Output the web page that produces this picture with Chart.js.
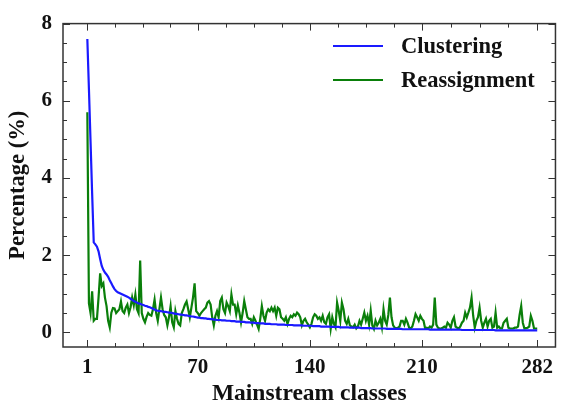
<!DOCTYPE html>
<html>
<head>
<meta charset="utf-8">
<script src="https://cdn.jsdelivr.net/npm/chart.js@4/dist/chart.umd.min.js"></script>
<style>
html, body { margin: 0; padding: 0; background: #fff; }
</style>
</head>
<body>
<canvas id="chart" width="561" height="408"></canvas>
<script>
// tick labels
const xTicks = [1, 70, 140, 210, 282];
const yTicks = [0, 2, 4, 6, 8];
const seriesNames = ['Clustering', 'Reassignment'];

// share of each mainstream class (%), classes 1..282
const clustering = [
  7.6, 6.3, 4.95, 3.6, 2.33, 2.28, 2.22, 2.1, 1.9, 1.72,
  1.62, 1.55, 1.5, 1.44, 1.35, 1.27, 1.19, 1.12, 1.07, 1.04,
  1.02, 1.0, 0.98, 0.96, 0.94, 0.92, 0.9, 0.87, 0.84, 0.81,
  0.79, 0.77, 0.75, 0.74, 0.72, 0.71, 0.69, 0.68, 0.66, 0.65,
  0.63, 0.61, 0.59, 0.57, 0.56, 0.55, 0.55, 0.54, 0.53, 0.53,
  0.52, 0.51, 0.51, 0.5, 0.49, 0.48, 0.48, 0.47, 0.46, 0.46,
  0.45, 0.44, 0.44, 0.43, 0.42, 0.41, 0.41, 0.4, 0.39, 0.38,
  0.38, 0.37, 0.37, 0.36, 0.36, 0.35, 0.35, 0.34, 0.34, 0.33,
  0.33, 0.32, 0.32, 0.32, 0.31, 0.31, 0.31, 0.3, 0.3, 0.3,
  0.29, 0.29, 0.29, 0.28, 0.28, 0.28, 0.27, 0.27, 0.27, 0.26,
  0.26, 0.26, 0.25, 0.25, 0.25, 0.24, 0.24, 0.24, 0.23, 0.23,
  0.23, 0.22, 0.22, 0.22, 0.22, 0.21, 0.21, 0.21, 0.21, 0.2,
  0.2, 0.2, 0.2, 0.2, 0.19, 0.19, 0.19, 0.19, 0.19, 0.18,
  0.18, 0.18, 0.18, 0.18, 0.18, 0.17, 0.17, 0.17, 0.17, 0.17,
  0.17, 0.16, 0.16, 0.16, 0.16, 0.16, 0.15, 0.15, 0.15, 0.15,
  0.15, 0.15, 0.14, 0.14, 0.14, 0.14, 0.14, 0.14, 0.13, 0.13,
  0.13, 0.13, 0.13, 0.13, 0.12, 0.12, 0.12, 0.12, 0.12, 0.12,
  0.12, 0.11, 0.11, 0.11, 0.11, 0.11, 0.11, 0.11, 0.1, 0.1,
  0.1, 0.1, 0.1, 0.1, 0.1, 0.1, 0.1, 0.09, 0.09, 0.09,
  0.09, 0.09, 0.09, 0.09, 0.09, 0.09, 0.09, 0.08, 0.08, 0.08,
  0.08, 0.08, 0.08, 0.08, 0.08, 0.08, 0.08, 0.08, 0.08, 0.08,
  0.08, 0.08, 0.08, 0.08, 0.07, 0.07, 0.07, 0.07, 0.07, 0.07,
  0.07, 0.07, 0.07, 0.07, 0.07, 0.07, 0.07, 0.07, 0.07, 0.07,
  0.07, 0.07, 0.07, 0.07, 0.06, 0.06, 0.06, 0.06, 0.06, 0.06,
  0.06, 0.06, 0.06, 0.06, 0.06, 0.06, 0.06, 0.06, 0.06, 0.06,
  0.06, 0.06, 0.06, 0.06, 0.06, 0.05, 0.05, 0.05, 0.05, 0.05,
  0.05, 0.05, 0.05, 0.05, 0.05, 0.05, 0.05, 0.05, 0.05, 0.05,
  0.05, 0.05, 0.05, 0.05, 0.05, 0.05, 0.05, 0.05, 0.05, 0.05,
  0.05, 0.05
];

const reassignment = [
  5.7, 0.75, 0.5, 1.06, 0.3, 0.35, 0.35, 0.9, 1.53, 1.2,
  1.27, 0.9, 0.68, 0.3, 0.13, 0.51, 0.63, 0.62, 0.5, 0.55,
  0.6, 0.8, 0.55, 0.5, 0.64, 0.72, 0.5, 0.65, 0.9, 0.7,
  0.98, 0.6, 0.5, 1.86, 0.5, 0.35, 0.26, 0.4, 0.5, 0.45,
  0.43, 0.6, 0.85, 0.5, 0.3, 0.6, 0.9, 0.6, 0.45, 0.39,
  0.18, 0.39, 0.68, 0.26, 0.13, 0.55, 0.35, 0.22, 0.18, 0.5,
  0.6, 0.72, 0.8, 0.6, 0.39, 0.64, 0.9, 1.27, 0.55, 0.5,
  0.43, 0.5, 0.55, 0.6, 0.64, 0.77, 0.81, 0.72, 0.39, 0.18,
  0.43, 0.55, 0.39, 0.81, 0.9, 0.6, 0.5, 0.77, 0.68, 0.55,
  0.98, 0.72, 0.72, 0.47, 0.7, 0.51, 0.26, 0.5, 0.81, 0.6,
  0.39, 0.35, 0.35, 0.22, 0.39, 0.3, 0.2, 0.09, 0.35, 0.68,
  0.43, 0.3, 0.51, 0.6, 0.55, 0.64, 0.55, 0.64, 0.43, 0.64,
  0.6, 0.39, 0.35, 0.3, 0.39, 0.22, 0.35, 0.43, 0.39, 0.47,
  0.43, 0.51, 0.47, 0.39, 0.18, 0.3, 0.35, 0.26, 0.2, 0.13,
  0.22, 0.39, 0.47, 0.43, 0.35, 0.39, 0.3, 0.43, 0.26, 0.22,
  0.39, 0.47, 0.09, 0.39, 0.22, 0.13, 0.77, 0.56, 0.3, 0.77,
  0.6, 0.3, 0.22, 0.35, 0.18, 0.15, 0.13, 0.2, 0.1, 0.15,
  0.3, 0.2, 0.35, 0.51, 0.3, 0.43, 0.2, 0.56, 0.18, 0.09,
  0.3, 0.18, 0.25, 0.35, 0.13, 0.6, 0.3, 0.2, 0.45, 0.9,
  0.39, 0.18, 0.12, 0.1, 0.12, 0.15, 0.3, 0.3, 0.2, 0.35,
  0.25, 0.12, 0.1, 0.15, 0.3, 0.47, 0.39, 0.3, 0.43, 0.35,
  0.3, 0.1, 0.12, 0.1, 0.15, 0.12, 0.2, 0.9, 0.2, 0.12,
  0.1, 0.1, 0.12, 0.15, 0.12, 0.25, 0.2, 0.12, 0.3, 0.39,
  0.15, 0.12, 0.1, 0.15, 0.25, 0.3, 0.51, 0.39, 0.51, 0.64,
  0.9, 0.43, 0.12, 0.3, 0.39, 0.64, 0.3, 0.12, 0.25, 0.35,
  0.15, 0.3, 0.35, 0.12, 0.15, 0.51, 0.12, 0.15, 0.1, 0.1,
  0.25, 0.3, 0.35, 0.12, 0.1, 0.1, 0.1, 0.12, 0.12, 0.15,
  0.45, 0.68, 0.25, 0.1, 0.11, 0.12, 0.15, 0.43, 0.3, 0.1,
  0.1, 0.1
];

const FONT = 'Liberation Serif, Times New Roman, serif';
const INK = '#111';
const colors = ['#1a1aff', '#0a7f0a'];

const toPoints = arr => arr.map((v, i) => ({ x: i + 1, y: v }));

// box around the plot with inward ticks on all four sides, plus the legend
const framePlugin = {
  id: 'frame',
  afterDatasetsDraw(chart) {
    const { ctx, chartArea: a, scales: { x, y } } = chart;
    ctx.save();
    ctx.strokeStyle = '#333';
    ctx.lineWidth = 1.5;
    ctx.strokeRect(a.left, a.top, a.right - a.left, a.bottom - a.top);

    ctx.lineWidth = 1;
    // x ticks: majors + 3 minors in between
    const xs = [];
    for (let i = 0; i < xTicks.length; i++) {
      xs.push([xTicks[i], 7]);
      if (i < xTicks.length - 1) {
        const step = (xTicks[i + 1] - xTicks[i]) / 4;
        for (let k = 1; k < 4; k++) xs.push([xTicks[i] + k * step, 4]);
      }
    }
    xs.forEach(([v, len]) => {
      const px = Math.round(x.getPixelForValue(v)) + 0.5;
      ctx.beginPath();
      ctx.moveTo(px, a.bottom); ctx.lineTo(px, a.bottom - len);
      ctx.moveTo(px, a.top); ctx.lineTo(px, a.top + len);
      ctx.stroke();
    });
    // y ticks every 0.5
    for (let v = 0; v <= 8; v += 0.5) {
      const len = v % 2 === 0 ? 7 : 4;
      const py = Math.round(y.getPixelForValue(v)) + 0.5;
      ctx.beginPath();
      ctx.moveTo(a.left, py); ctx.lineTo(a.left + len, py);
      ctx.moveTo(a.right, py); ctx.lineTo(a.right - len, py);
      ctx.stroke();
    }

    // legend, upper right inside the plot
    ctx.font = 'bold 22.5px ' + FONT;
    ctx.textBaseline = 'middle';
    ctx.fillStyle = INK;
    chart.data.datasets.forEach((ds, i) => {
      const ly = 46 + i * 34;
      ctx.strokeStyle = ds.borderColor;
      ctx.lineWidth = 2;
      ctx.beginPath();
      ctx.moveTo(333, ly); ctx.lineTo(383, ly);
      ctx.stroke();
      ctx.fillText(ds.label, 401, ly + 1);
    });
    ctx.restore();
  }
};

new Chart(document.getElementById('chart'), {
  type: 'line',
  data: {
    datasets: [{
      label: seriesNames[0],
      data: toPoints(clustering),
      borderColor: colors[0],
      borderWidth: 2.2
    }, {
      label: seriesNames[1],
      data: toPoints(reassignment),
      borderColor: colors[1],
      borderWidth: 2.2
    }]
  },
  options: {
    responsive: false,
    animation: false,
    layout: { padding: { top: 14, right: 1, left: 0, bottom: 0 } },
    elements: { point: { radius: 0 }, line: { tension: 0 } },
    plugins: { legend: { display: false }, tooltip: { enabled: false } },
    scales: {
      x: {
        type: 'linear',
        min: -14.2,
        max: 293.4,
        afterBuildTicks: s => { s.ticks = xTicks.map(v => ({ value: v })); },
        afterFit: s => { s.height = 61; },
        grid: { display: false, drawTicks: false },
        border: { display: false },
        ticks: {
          autoSkip: false, maxRotation: 0, padding: 8, color: INK,
          font: { family: FONT, weight: 'bold', size: 21 }
        },
        title: {
          display: true, text: 'Mainstream classes', color: INK,
          font: { family: FONT, weight: 'bold', size: 23.5 },
          padding: { top: 0, bottom: 0 }
        }
      },
      y: {
        min: -0.38,
        max: 8,
        afterBuildTicks: s => { s.ticks = yTicks.map(v => ({ value: v })); },
        afterFit: s => { s.width = 63; },
        grid: { display: false, drawTicks: false },
        border: { display: false },
        ticks: {
          padding: 11, color: INK,
          font: { family: FONT, weight: 'bold', size: 21 }
        },
        title: {
          display: true, text: 'Percentage (%)', color: INK,
          font: { family: FONT, weight: 'bold', size: 22.5 },
          padding: { top: 5, bottom: 0 }
        }
      }
    }
  },
  plugins: [framePlugin]
});
</script>
</body>
</html>
